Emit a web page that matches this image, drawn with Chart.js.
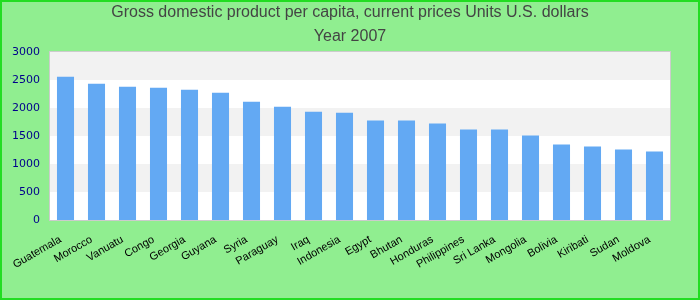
<!DOCTYPE html>
<html>
<head>
<meta charset="utf-8">
<script src="https://cdn.jsdelivr.net/npm/chart.js@4"></script>
<style>
  body { margin: 0; }
  #wrap { width: 700px; height: 300px; position: relative; }
</style>
</head>
<body>
<div id="wrap"><canvas id="myChart" width="700" height="300"></canvas></div>
<script>
var countries = ['Guatemala', 'Morocco', 'Vanuatu', 'Congo', 'Georgia', 'Guyana', 'Syria', 'Paraguay', 'Iraq', 'Indonesia',
  'Egypt', 'Bhutan', 'Honduras', 'Philippines', 'Sri Lanka', 'Mongolia', 'Bolivia', 'Kiribati', 'Sudan', 'Moldova'];
var gdpValues = [2556, 2432, 2379, 2361, 2325, 2272, 2112, 2024, 1935, 1917,
  1775, 1775, 1722, 1615, 1615, 1509, 1349, 1314, 1260, 1225];
var yTicks = [0, 500, 1000, 1500, 2000, 2500, 3000];
var titleLines = ['Gross domestic product per capita, current prices Units U.S. dollars', 'Year 2007'];

// background, alternating bands and border
var bands = {
  id: 'bands',
  beforeDraw: function(chart) {
    var ctx = chart.ctx;
    var area = chart.chartArea;
    var y = chart.scales.y;
    ctx.save();
    ctx.fillStyle = '#90ee90';
    ctx.fillRect(0, 0, chart.width, chart.height);
    ctx.strokeStyle = '#22dd22';
    ctx.lineWidth = 2;
    ctx.strokeRect(1, 1, chart.width - 2, chart.height - 2);
    ctx.fillStyle = '#ffffff';
    ctx.fillRect(area.left, area.top, area.right - area.left, area.bottom - area.top);
    ctx.fillStyle = '#f2f2f2';
    for (var i = 1; i < yTicks.length - 1; i += 2) {
      var top = y.getPixelForValue(yTicks[i + 1]);
      var bottom = y.getPixelForValue(yTicks[i]);
      ctx.fillRect(area.left, top, area.right - area.left, bottom - top);
    }
    ctx.strokeStyle = '#cccccc';
    ctx.lineWidth = 1;
    ctx.strokeRect(area.left - 0.5, area.top - 0.5, area.right - area.left + 1, area.bottom - area.top + 1);
    ctx.restore();
  }
};

var ctx = document.getElementById('myChart');
var myChart = new Chart(ctx, {
  type: 'bar',
  data: {
    labels: countries,
    datasets: [{
      data: gdpValues,
      backgroundColor: '#63a9f3',
      barPercentage: 0.55,
      categoryPercentage: 1
    }]
  },
  options: {
    responsive: false,
    animation: false,
    layout: { padding: { top: 1 } },
    plugins: {
      legend: { display: false },
      tooltip: { enabled: false },
      title: {
        display: true,
        text: titleLines,
        color: '#444444',
        font: { family: 'Liberation Sans', size: 16, weight: 'normal', lineHeight: 1.5 },
        padding: { top: 0, bottom: 3 }
      }
    },
    scales: {
      x: {
        grid: { display: false },
        border: { display: false },
        ticks: {
          color: '#000000',
          font: { family: 'Liberation Sans', size: 11 },
          minRotation: 30,
          maxRotation: 30,
          autoSkip: false,
          padding: 5,
          labelOffset: -5
        },
        afterFit: function(scale) { scale.height = 80; }
      },
      y: {
        min: 0,
        max: 3000,
        grid: { display: false },
        border: { display: false },
        afterBuildTicks: function(scale) {
          scale.ticks = yTicks.map(function(v) { return { value: v }; });
        },
        ticks: {
          color: '#00008b',
          font: { family: 'DejaVu Sans', size: 11 },
          padding: 2,
          callback: function(value) { return String(value); }
        },
        afterFit: function(scale) { scale.width = 50; }
      },
      yRight: {
        position: 'right',
        min: 0,
        max: 3000,
        grid: { display: false },
        border: { display: false },
        ticks: { display: false },
        afterFit: function(scale) { scale.width = 30; }
      }
    }
  },
  plugins: [bands]
});
</script>
</body>
</html>
